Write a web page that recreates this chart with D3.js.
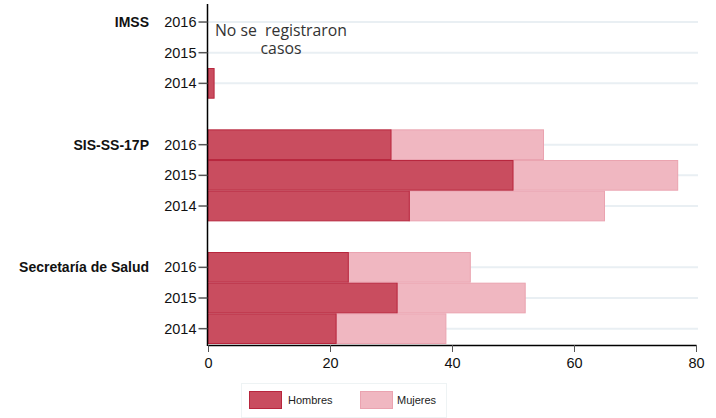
<!DOCTYPE html>
<html>
<head>
<meta charset="utf-8">
<script src="https://cdn.jsdelivr.net/npm/d3@7"></script>
<style>
body { margin: 0; background: #fff; }
svg text { font-family: "Liberation Sans", Arial, sans-serif; }
</style>
</head>
<body>
<div id="chart"></div>
<script>
var groups = ["IMSS", "SIS-SS-17P", "Secretaría de Salud"];
var years = ["2016", "2015", "2014"];
var hombres = [[0, 0, 1], [30, 50, 33], [23, 31, 21]];
var mujeres = [[0, 0, 0], [25, 27, 32], [20, 21, 18]];
var x_ticks = [0, 20, 40, 60, 80];
var series_names = ["Hombres", "Mujeres"];
var note_lines = ["No se  registraron", "casos"];

var width = 716, height = 418;
var x0 = 208, x1 = 696, y_top = 6.7, y_bottom = 344;

var colors = { Hombres: { fill: "#c94d5f", stroke: "#b8263d" }, Mujeres: { fill: "#f0b7c1", stroke: "#eaa3b0" } };

// slot keys, with an empty slot between the groups
var slots = [];
var rows = [];
groups.forEach(function(g, gi)
{
    if (gi > 0) slots.push("gap" + gi);
    years.forEach(function(yr, yi)
    {
        var key = g + "|" + yr;
        slots.push(key);
        rows.push({ key: key, group: g, year: yr, h: hombres[gi][yi], m: mujeres[gi][yi], first: yi == 0 });
    });
});

var svg = d3.select("#chart").append("svg").attr("width", width).attr("height", height);

var x = d3.scaleLinear().domain([0, 80]).range([x0, x1]);
var y = d3.scaleBand().domain(slots).range([y_top, y_bottom]).paddingInner(0).paddingOuter(0);

// gridlines
svg.append("g").selectAll("line").data(rows).enter().append("line")
    .attr("x1", x0).attr("x2", 698)
    .attr("y1", function(d) { return y(d.key) + y.bandwidth() / 2; })
    .attr("y2", function(d) { return y(d.key) + y.bandwidth() / 2; })
    .attr("stroke", "#e9eff3").attr("stroke-width", 2);

// bars
var bars = svg.append("g");
bars.selectAll("rect.m").data(rows.filter(function(d) { return d.m > 0; })).enter().append("rect")
    .attr("class", "m")
    .attr("x", function(d) { return x(d.h); })
    .attr("width", function(d) { return x(d.h + d.m) - x(d.h); })
    .attr("y", function(d) { return y(d.key) + 0.5; })
    .attr("height", y.bandwidth() - 1)
    .attr("fill", colors.Mujeres.fill).attr("stroke", colors.Mujeres.stroke).attr("stroke-width", 1);
bars.selectAll("rect.h").data(rows.filter(function(d) { return d.h > 0; })).enter().append("rect")
    .attr("class", "h")
    .attr("x", x(0))
    .attr("width", function(d) { return x(d.h) - x(0); })
    .attr("y", function(d) { return y(d.key) + 0.5; })
    .attr("height", y.bandwidth() - 1)
    .attr("fill", colors.Hombres.fill).attr("stroke", colors.Hombres.stroke).attr("stroke-width", 1);

// x axis
var xa = svg.append("g").attr("transform", "translate(0,345)")
    .call(d3.axisBottom(x).tickValues(x_ticks).tickSize(7).tickPadding(6).tickSizeOuter(0));
xa.select(".domain").attr("stroke", "#000").attr("stroke-width", 1.5);
xa.selectAll(".tick line").attr("stroke", "#555");
xa.selectAll(".tick text").attr("font-size", "14.5px").attr("fill", "#111").attr("font-family", "Liberation Sans, Arial, sans-serif");

// y axis
var ya = svg.append("g").attr("transform", "translate(207.5,0)");
ya.append("line").attr("x1", 0).attr("x2", 0).attr("y1", 4).attr("y2", 346).attr("stroke", "#000").attr("stroke-width", 1.5);
var yt = ya.selectAll("g.tick").data(rows).enter().append("g")
    .attr("transform", function(d) { return "translate(0," + (y(d.key) + y.bandwidth() / 2) + ")"; });
yt.append("line").attr("x1", -9).attr("x2", 0).attr("stroke", "#555").attr("stroke-width", 1.5);
yt.append("text").attr("x", -11).attr("dy", "0.35em").attr("text-anchor", "end")
    .attr("font-size", "14.5px").attr("fill", "#111").text(function(d) { return d.year; });

// group labels
svg.append("g").selectAll("text").data(rows.filter(function(d) { return d.first; })).enter().append("text")
    .attr("x", 149).attr("y", function(d) { return y(d.key) + y.bandwidth() / 2; })
    .attr("dy", "0.35em").attr("text-anchor", "end")
    .attr("font-size", "14px").attr("font-weight", "bold").attr("fill", "#111")
    .text(function(d) { return d.group; });

// note, two lines in one text
var note = svg.append("text")
    .attr("text-anchor", "middle")
    .style("font-family", "'Open Sans', sans-serif").attr("font-size", "15.8px").attr("fill", "#333")
    .attr("xml:space", "preserve").style("white-space", "pre");
note.selectAll("tspan").data(note_lines).enter().append("tspan")
    .attr("x", 281).attr("y", function(d, i) { return 36 + i * 18; })
    .text(function(d) { return d; });

// legend
var lg = svg.append("g");
lg.append("rect").attr("x", 241.5).attr("y", 383.5).attr("width", 205).attr("height", 34)
    .attr("fill", "#fff").attr("stroke", "#eef3f4").attr("stroke-width", 1);
var li = lg.selectAll("g.item").data(series_names).enter().append("g")
    .attr("transform", function(d, i) { return "translate(" + (249 + i * 111) + ",391)"; });
li.append("rect").attr("x", 0.5).attr("y", 0.5).attr("width", 32).attr("height", 17)
    .attr("fill", function(d) { return colors[d].fill; })
    .attr("stroke", function(d) { return colors[d].stroke; });
li.append("text").attr("x", function(d, i) { return i == 0 ? 39 : 37; }).attr("y", 9).attr("dy", "0.35em")
    .attr("font-size", "11px").attr("fill", "#222").text(function(d) { return d; });
</script>
</body>
</html>
